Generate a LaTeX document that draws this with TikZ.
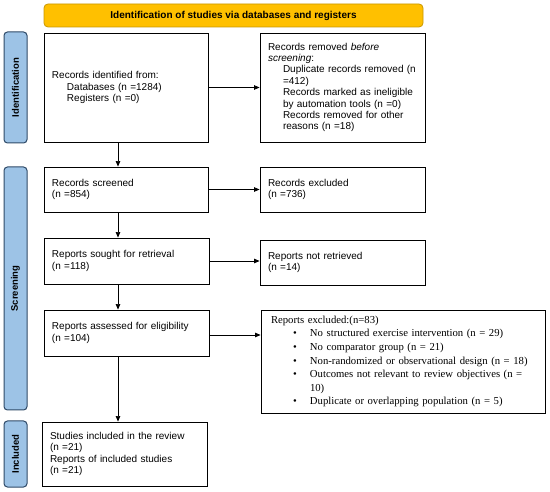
\documentclass[tikz,border=0pt]{standalone}
\usepackage{fontspec}
\setmainfont{Liberation Sans}
\newfontfamily\timesfont{Liberation Serif}
\usetikzlibrary{arrows.meta}
\definecolor{hdrfill}{HTML}{FFC000}
\definecolor{hdrdraw}{HTML}{C99700}
\definecolor{sidefill}{HTML}{9DC3E6}
\definecolor{sidedraw}{HTML}{2F4A68}
\tikzset{
  box/.style={draw=black, line width=0.9pt, fill=white, inner sep=0pt, align=left,
    font=\fontsize{10}{11.4}\selectfont},
  side/.style={draw=sidedraw, line width=1pt, fill=sidefill, rounded corners=3.5pt,
    inner sep=0pt, minimum height=23pt, font=\bfseries\fontsize{9.5}{11}\selectfont, rotate=90},
  hdr/.style={draw=hdrdraw, line width=0.8pt, fill=hdrfill, rounded corners=4pt, inner sep=0pt,
    font=\bfseries\fontsize{10}{12}\selectfont},
  arr/.style={-{Triangle[length=5.5pt,width=4.5pt]}, line width=0.7pt}
}
\begin{document}
\begin{tikzpicture}[x=1pt,y=-1pt]
\useasboundingbox (0,0) rectangle (550,492);
\fill[white] (0,0) rectangle (550,492);
% header
\node[hdr, minimum width=379pt, minimum height=23pt] (hdr) at (233.5,15.5) {Identification of studies via databases and registers};
% side bars (rotated: minimum width runs along the bar)
\node[side, minimum width=111pt] (sid) at (15.5,87.5) {Identification};
\node[side, minimum width=243pt] (ssc) at (15.5,288.5) {Screening};
\node[side, minimum width=66pt] (sin) at (15.5,454) {Included};
% boxes
\node[box, minimum width=164pt, minimum height=109pt, text width=148pt] (b1) at (126,87.5)
 {Records identified from:\\
  \hspace*{15pt}Databases (n =1284)\\
  \hspace*{15pt}Registers (n =0)};
\node[box, minimum width=165pt, minimum height=109pt, text width=149pt] (rem) at (342.5,87.5)
 {Records removed \textit{before}\\
  \textit{screening}:\\
  \hspace*{15pt}\mbox{Duplicate records removed (n}\\
  \hspace*{15pt}=412)\\
  \hspace*{15pt}Records marked as ineligible\\
  \hspace*{15pt}by automation tools (n =0)\\
  \hspace*{15pt}Records removed for other\\
  \hspace*{15pt}reasons (n =18)};
\node[box, minimum width=164pt, minimum height=45pt, text width=148pt] (scr) at (126,189.5)
 {Records screened\\(n =854)};
\node[box, minimum width=165pt, minimum height=45pt, text width=149pt] (exc) at (342.5,189.5)
 {Records excluded\\(n =736)};
\node[box, minimum width=165pt, minimum height=46pt, text width=149pt] (sou) at (126.5,261)
 {Reports sought for retrieval\\(n =118)};
\node[box, minimum width=165pt, minimum height=45pt, text width=149pt] (nret) at (342.5,262.5)
 {Reports not retrieved\\(n =14)};
\node[box, minimum width=165pt, minimum height=46pt, text width=149pt] (ass) at (126.5,333)
 {Reports assessed for eligibility\\(n =104)};
\node[box, minimum width=284pt, minimum height=103pt, text width=264pt,
      font=\timesfont\fontsize{10.7}{13.6}\selectfont] (rex) at (403,361.5)
 {Reports excluded:(n=83)\\
  \hspace*{22pt}\makebox[17pt][l]{\textbullet}No structured exercise intervention (n = 29)\\
  \hspace*{22pt}\makebox[17pt][l]{\textbullet}No comparator group (n = 21)\\
  \hspace*{22pt}\makebox[17pt][l]{\textbullet}Non-randomized or observational design (n = 18)\\
  \hspace*{22pt}\makebox[17pt][l]{\textbullet}Outcomes not relevant to review objectives (n =\\
  \hspace*{39pt}10)\\
  \hspace*{22pt}\makebox[17pt][l]{\textbullet}Duplicate or overlapping population (n = 5)};
\node[box, minimum width=165pt, minimum height=64pt, text width=149pt] (inc) at (124.5,454)
 {Studies included in the review\\(n =21)\\Reports of included studies\\(n =21)};
% arrows
\coordinate (ax) at (118,0);
\draw[arr] (b1.south -| ax) -- (scr.north -| ax);
\draw[arr] (scr.south -| ax) -- (sou.north -| ax);
\draw[arr] (sou.south -| ax) -- (ass.north -| ax);
\draw[arr] (ass.south -| ax) -- (inc.north -| ax);
\draw[arr] (b1.east) -- (rem.west |- b1.east);
\draw[arr] (scr.east) -- (exc.west |- scr.east);
\draw[arr] (sou.east) -- (nret.west |- sou.east);
\coordinate (ay) at (0,335);
\draw[arr] (ass.east |- ay) -- (rex.west |- ay);
\end{tikzpicture}
\end{document}
